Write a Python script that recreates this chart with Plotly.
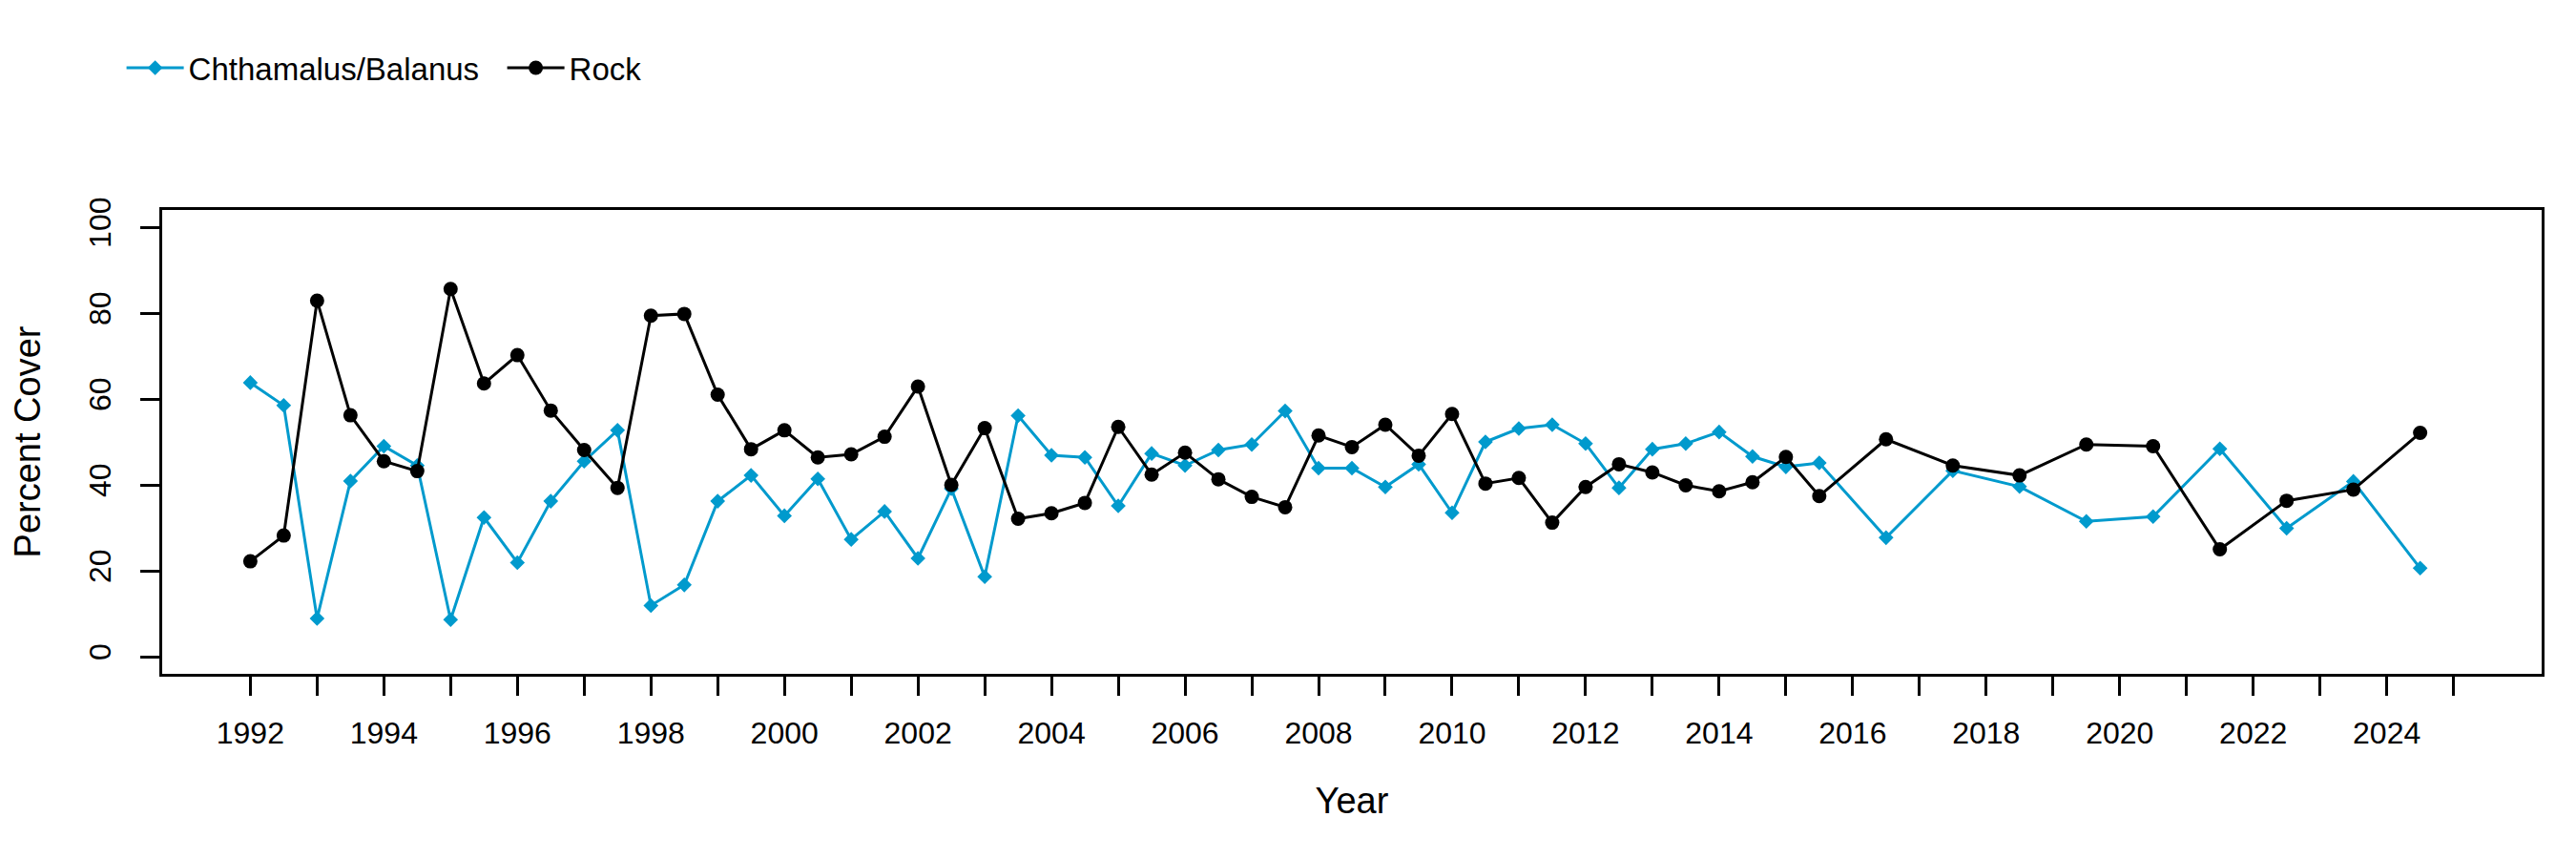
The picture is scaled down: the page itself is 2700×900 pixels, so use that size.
import plotly.graph_objects as go

# Survey dates (year, half-year resolution)
years = [1992, 1992.5, 1993, 1993.5, 1994, 1994.5, 1995, 1995.5, 1996, 1996.5,
         1997, 1997.5, 1998, 1998.5, 1999, 1999.5, 2000, 2000.5, 2001, 2001.5,
         2002, 2002.5, 2003, 2003.5, 2004, 2004.5, 2005, 2005.5, 2006, 2006.5,
         2007, 2007.5, 2008, 2008.5, 2009, 2009.5, 2010, 2010.5, 2011, 2011.5,
         2012, 2012.5, 2013, 2013.5, 2014, 2014.5, 2015, 2015.5, 2016.5, 2017.5,
         2018.5, 2019.5, 2020.5, 2021.5, 2022.5, 2023.5, 2024.5]

chthamalus = [63.8, 58.5, 8.9, 40.9, 49.0, 44.5, 8.6, 32.4, 21.9, 36.2,
              45.5, 52.7, 11.9, 16.7, 36.2, 42.2, 32.8, 41.4, 27.3, 33.8,
              22.9, 39.1, 18.6, 56.1, 46.9, 46.4, 35.1, 47.3, 44.5, 48.1,
              49.4, 57.2, 43.9, 43.9, 39.5, 44.8, 33.5, 50.0, 53.1, 54.0,
              49.6, 39.3, 48.3, 49.6, 52.3, 46.6, 44.2, 45.1, 27.7, 43.3,
              39.6, 31.5, 32.6, 48.4, 29.9, 40.8, 20.6]

rock = [22.2, 28.2, 82.9, 56.2, 45.5, 43.2, 85.6, 63.6, 70.2, 57.3,
        48.1, 39.3, 79.4, 79.8, 61.0, 48.3, 52.7, 46.4, 47.1, 51.2,
        62.9, 40.0, 53.2, 32.1, 33.4, 35.8, 53.5, 42.4, 47.5, 41.3,
        37.2, 34.8, 51.5, 48.8, 54.0, 46.8, 56.5, 40.3, 41.6, 31.2,
        39.5, 44.8, 42.9, 39.9, 38.5, 40.6, 46.5, 37.4, 50.6, 44.5,
        42.2, 49.4, 49.0, 25.0, 36.3, 38.9, 52.1]

x_ticks = list(range(1992, 2026))
x_ticktext = [str(y) if (y % 2 == 0 and y <= 2024) else "" for y in x_ticks]
y_ticks = [0, 20, 40, 60, 80, 100]

FONT = "Liberation Sans, Arial, sans-serif"
BLUE = "#009ACD"

fig = go.Figure()
fig.add_trace(go.Scatter(
    x=years, y=chthamalus, mode="lines+markers", name="Chthamalus/Balanus",
    line=dict(color=BLUE, width=3),
    marker=dict(symbol="diamond", size=12, color=BLUE),
))
fig.add_trace(go.Scatter(
    x=years, y=rock, mode="lines+markers", name="Rock",
    line=dict(color="black", width=3),
    marker=dict(symbol="circle", size=15, color="black"),
))

fig.update_layout(
    width=2700, height=900,
    paper_bgcolor="white", plot_bgcolor="white",
    margin=dict(l=162, r=44, t=212, b=202),
    font=dict(family=FONT, color="black", size=32),
    showlegend=True,
    legend=dict(
        orientation="h", x=-0.017, y=0.93, xref="paper", yref="container",
        xanchor="left", yanchor="middle",
        font=dict(size=33, family=FONT),
        entrywidth=324, entrywidthmode="pixels",
        itemwidth=60, bgcolor="rgba(0,0,0,0)",
    ),
    xaxis=dict(
        range=[1990.68, 2026.32], tickmode="array", tickvals=x_ticks,
        ticktext=x_ticktext, ticks="outside", ticklen=20, tickwidth=3,
        tickcolor="black", showgrid=False, zeroline=False,
        showline=True, linewidth=3, linecolor="black", mirror=True,
        tickfont=dict(size=32), ticklabelstandoff=12,
        title=dict(text="Year", font=dict(size=38), standoff=40),
    ),
    yaxis=dict(
        range=[-4, 104], tickmode="array", tickvals=y_ticks,
        ticks="outside", ticklen=20, tickwidth=3, tickcolor="black",
        showgrid=False, zeroline=False,
        showline=True, linewidth=3, linecolor="black", mirror=True,
        tickangle=-90, tickfont=dict(size=32), ticklabelstandoff=18,
        title=dict(text="Percent Cover", font=dict(size=38), standoff=36),
    ),
)

fig.write_html("out.html")
